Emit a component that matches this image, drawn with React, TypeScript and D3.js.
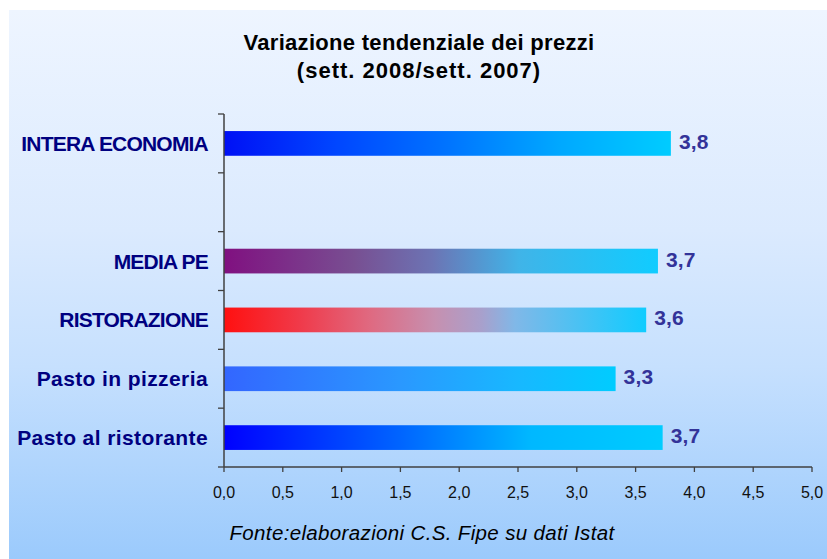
import React from "react";
import * as d3 from "d3";

const categories = ["INTERA ECONOMIA", "", "MEDIA PE", "RISTORAZIONE", "Pasto in pizzeria", "Pasto al ristorante"];
const values: (number | null)[] = [3.8, null, 3.69, 3.59, 3.33, 3.73];
const xTicks = [0, 0.5, 1, 1.5, 2, 2.5, 3, 3.5, 4, 4.5, 5];
const gradientStops: [number, string][][] = [
  [[0, "#0010f5"], [0.25, "#0046ff"], [0.5, "#0074ff"], [0.75, "#00a8ff"], [1, "#00ccff"]],
  [],
  [[0, "#801080"], [0.3, "#784f92"], [0.48, "#6c74b4"], [0.68, "#40b4e8"], [1, "#10ccff"]],
  [[0, "#ff1010"], [0.18, "#f03a4a"], [0.34, "#e0687f"], [0.5, "#c690b0"], [0.61, "#a8a0cc"], [0.69, "#80b8e8"], [1, "#10ccff"]],
  [[0, "#3366ff"], [0.45, "#2a98ff"], [0.75, "#18b8ff"], [1, "#00ccff"]],
  [[0, "#0000ff"], [0.4, "#0064ff"], [0.7, "#00b8ff"], [1, "#00ccff"]],
];
const title = ["Variazione tendenziale dei prezzi", "(sett. 2008/sett. 2007)"];
const source = "Fonte:elaborazioni C.S. Fipe su dati Istat";

const W = 827, H = 559;
const plot = { left: 224, right: 812, top: 114, bottom: 467 };

export default function App() {
  const x = d3.scaleLinear().domain([0, 5]).range([plot.left, plot.right]);
  const y = d3.scaleBand<string>().domain(categories.map((c, i) => i + ":" + c)).range([plot.top, plot.bottom]).padding(0);
  const bw = y.bandwidth();
  const barH = bw * 0.42;
  const fmt = (v: number) => d3.format(".1f")(v).replace(".", ",");
  const keys = y.domain();
  const bounds = keys.map((k) => y(k) as number).concat([plot.bottom]);
  const axisColor = "#404040";
  const titleSpacing = [0.3, 1.0];

  return (
    <div style={{ position: "absolute", left: 0, top: 0 }}>
      <svg width={W} height={H} style={{ display: "block", fontFamily: "'Liberation Sans', Arial, sans-serif" }}>
        <defs>
          <linearGradient id="bg" x1="0" y1="0" x2="0" y2="1">
            <stop offset="0" stopColor="#eef5ff" />
            <stop offset="0.4" stopColor="#dbeafe" />
            <stop offset="0.65" stopColor="#c6e0fe" />
            <stop offset="1" stopColor="#9bcafc" />
          </linearGradient>
          {gradientStops.map((stops, i) => (
            <linearGradient key={i} id={"g" + i} x1="0" y1="0" x2="1" y2="0">
              {stops.map(([o, c], j) => (
                <stop key={j} offset={o} stopColor={c} />
              ))}
            </linearGradient>
          ))}
        </defs>
        <rect x={0} y={0} width={W} height={H} fill="#ffffff" />
        <rect x={9} y={10} width={W - 9} height={H - 10} fill="url(#bg)" />

        {title.map((t, i) => (
          <text key={i} x={419} y={50 + i * 28} textAnchor="middle" fontSize={22} fontWeight="bold" letterSpacing={titleSpacing[i]} fill="#000">
            {t}
          </text>
        ))}

        {categories.map((c, i) => {
          const v = values[i];
          const k = keys[i];
          const cy = (y(k) as number) + bw / 2;
          const caps = c === c.toUpperCase();
          return (
            <g key={k}>
              {c && (
                <text x={208} y={cy} dy="0.36em" textAnchor="end" fontSize={21} fontWeight="bold" fill="#000080" letterSpacing={caps ? -0.8 : 0.4}>
                  {c}
                </text>
              )}
              {v != null && (
                <>
                  <rect x={x(0)} y={cy - barH / 2} width={x(v) - x(0)} height={barH} fill={`url(#g${i})`} />
                  <text x={x(v) + 8} y={cy - 2} dy="0.36em" fontSize={21} fontWeight="bold" fill="#333399" letterSpacing={0.2}>
                    {fmt(v)}
                  </text>
                </>
              )}
            </g>
          );
        })}

        <line x1={plot.left} x2={plot.left} y1={plot.top} y2={plot.bottom} stroke={axisColor} strokeWidth={1.5} />
        {bounds.map((b, i) => (
          <line key={i} x1={plot.left - 6} x2={plot.left} y1={b} y2={b} stroke={axisColor} strokeWidth={1.3} />
        ))}
        <line x1={plot.left} x2={plot.right} y1={plot.bottom} y2={plot.bottom} stroke={axisColor} strokeWidth={1.5} />
        {xTicks.map((t) => (
          <g key={t}>
            <line x1={x(t)} x2={x(t)} y1={plot.bottom} y2={plot.bottom + 5} stroke={axisColor} strokeWidth={1.3} />
            <text x={x(t)} y={498} textAnchor="middle" fontSize={16} fill="#111">
              {d3.format(".1f")(t).replace(".", ",")}
            </text>
          </g>
        ))}

        <text x={422} y={540} textAnchor="middle" fontSize={20.5} fontStyle="italic" fill="#000" letterSpacing={0.35}>
          {source}
        </text>
      </svg>
    </div>
  );
}
